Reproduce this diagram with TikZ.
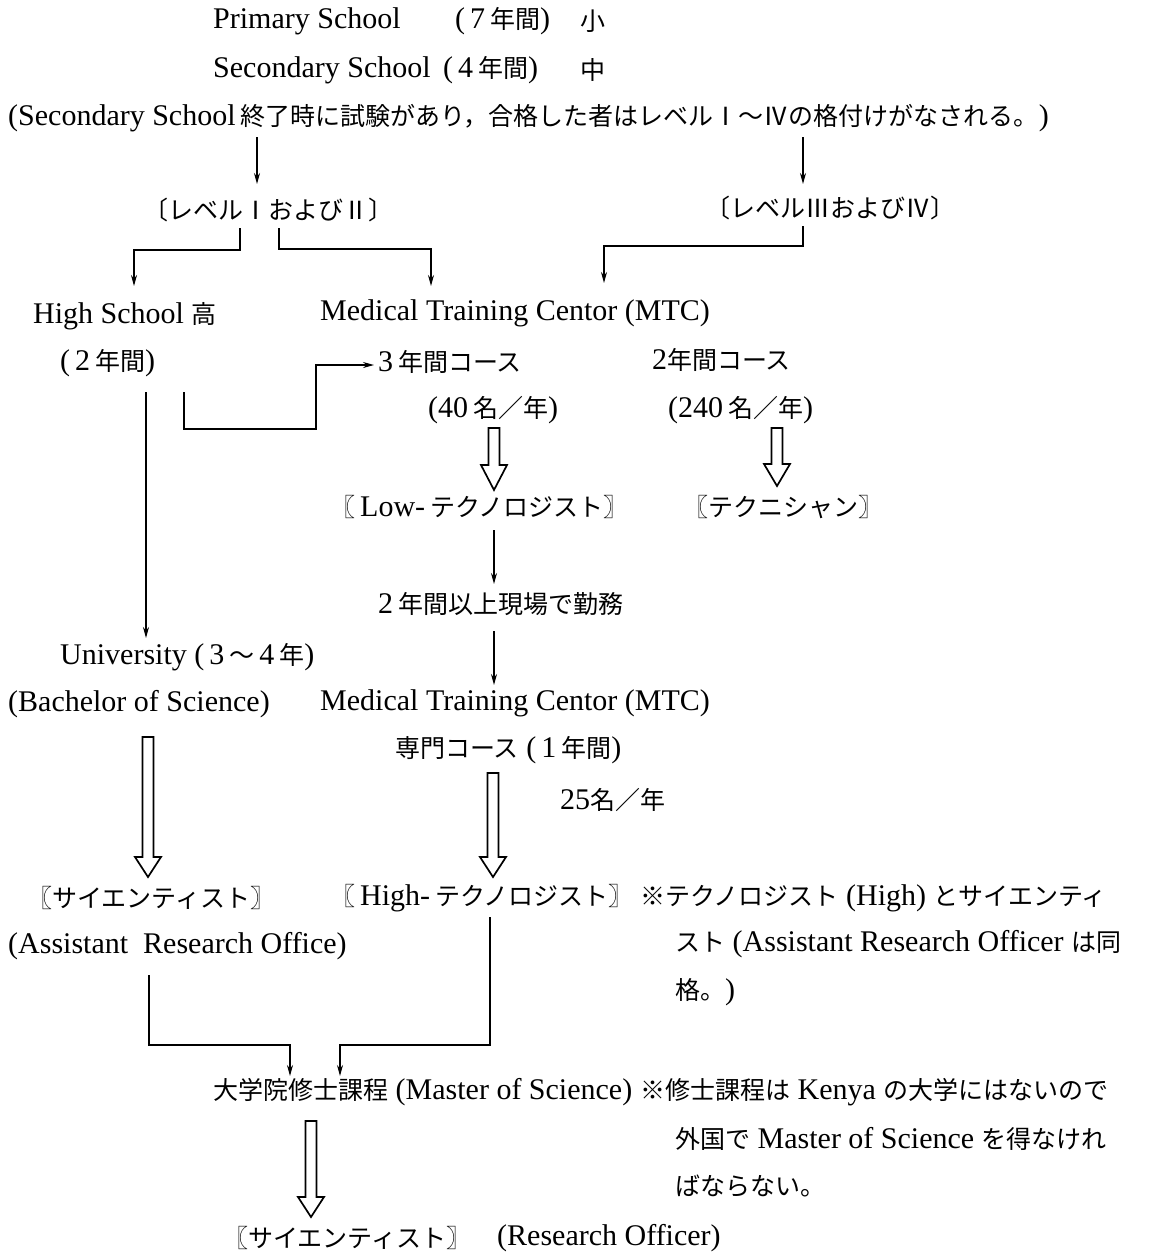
\documentclass[tikz,border=0pt]{standalone}
\usepackage{fontspec}
\setmainfont{Liberation Serif}
\newfontfamily\jpf{Noto Sans CJK JP}
\newcommand\J[1]{{\jpf\fontsize{25}{30}\selectfont #1}}
\usetikzlibrary{arrows.meta}
\newcommand\hollowarrow[4]{% x, ytop, ytip, head length
  \draw[hol] (#1-5.5,#2) -- (#1-5.5,#3-#4) -- (#1-13,#3-#4) -- (#1,#3) -- (#1+13,#3-#4) -- (#1+5.5,#3-#4) -- (#1+5.5,#2) -- cycle;}
\begin{document}
\begin{tikzpicture}[x=1pt,y=-1pt,
  txt/.style={anchor=west,inner sep=0pt,font=\fontsize{30}{35}\selectfont},
  arr/.style={line width=1.4pt,-{Stealth[length=11pt,width=6pt]}},
  hol/.style={line width=1.7pt,line join=miter}]
\useasboundingbox[fill=white] (0,0) rectangle (1151,1253);

% texts
\node[txt] (p1) at (213,21) {Primary School};
\node[txt] (p2) at (455,21) {(\,7\,\J{年間})};
\node[txt] (p3) at (580,21) {\J{小}};
\node[txt] (s1) at (213,70) {Secondary School};
\node[txt] (s2) at (443,70) {(\,4\,\J{年間})};
\node[txt] (s3) at (580,70) {\J{中}};
\node[txt] (note) at (8,118) {(Secondary School\,\J{終了時に試験があり，合格した者はレベルⅠ～Ⅳの格付けがなされる。})};
\node[txt] (lv12) at (143,210) {\J{〔レベルⅠおよびⅡ〕}};
\node[txt] (lv34) at (705,208) {\J{〔レベルⅢおよびⅣ〕}};
\node[txt] (hs) at (33,316) {High School \J{高}};
\node[txt] (hs2) at (60,363) {(\,2\,\J{年間})};
\node[txt] (mtc1) at (320,313) {Medical Training Centor (MTC)};
\node[txt] (c3) at (378,362) {3\,\J{年間コース}};
\node[txt] (c2) at (652,360) {2\J{年間コース}};
\node[txt] (n40) at (428,410) {(40\,\J{名／年})};
\node[txt] (n240) at (668,410) {(240\,\J{名／年})};
\node[txt] (low) at (330,507) {\J{〖}\,Low-\,\J{テクノロジスト〗}};
\node[txt] (tech) at (683,507) {\J{〖テクニシャン〗}};
\node[txt] (work) at (378,604) {2\,\J{年間以上現場で勤務}};
\node[txt] (uni) at (60,657) {University (\,3\,\J{～}\,4\,\J{年})};
\node[txt] (bsc) at (8,704) {(Bachelor of Science)};
\node[txt] (mtc2) at (320,703) {Medical Training Centor (MTC)};
\node[txt] (sp) at (395,750) {\J{専門コース} (\,1\,\J{年間})};
\node[txt] (n25) at (560,800) {25\J{名／年}};
\node[txt] (sci1) at (27,898) {\J{〖サイエンティスト〗}};
\node[txt] (high) at (330,898) {\J{〖}\,High-\,\J{テクノロジスト〗}};
\node[txt] (noteA) at (640,898) {\J{※テクノロジスト} (High) \J{とサイエンティ}};
\node[txt] (ari) at (8,946) {(Assistant\ \ Research Office)};
\node[txt] (noteB) at (675,944) {\J{スト} (Assistant Research Officer \J{は同}};
\node[txt] (noteC) at (675,992) {\J{格。})};
\node[txt] (mas) at (213,1092) {\J{大学院修士課程} (Master of Science)};
\node[txt] (noteD) at (640,1092) {\J{※修士課程は} Kenya \J{の大学にはないので}};
\node[txt] (noteE) at (675,1139) {\J{外国で} Master of Science \J{を得なけれ}};
\node[txt] (noteF) at (675,1186) {\J{ばならない。}};
\node[txt] (sci2) at (223,1238) {\J{〖サイエンティスト〗}};
\node[txt] (ro) at (497,1238) {(Research Officer)};

% connector end points
\coordinate (a1s) at (257,137); \coordinate (a1e) at (257,184);
\coordinate (a2s) at (803,137); \coordinate (a2e) at (803,184);
\coordinate (a3s) at (240,228); \coordinate (a3e) at (134,286);
\coordinate (a4s) at (279,228); \coordinate (a4e) at (431,286);
\coordinate (a5s) at (803,226); \coordinate (a5e) at (604,283);
\coordinate (a6s) at (184,392); \coordinate (a6e) at (374,365);
\coordinate (a7s) at (146,392); \coordinate (a7e) at (146,638);
\coordinate (a8s) at (494,530); \coordinate (a8e) at (494,584);
\coordinate (a9s) at (494,631); \coordinate (a9e) at (494,685);
\coordinate (a10s) at (149,975); \coordinate (a10e) at (290,1076);
\coordinate (a11s) at (490,917); \coordinate (a11e) at (340,1076);

\draw[arr] (a1s) -- (a1e);
\draw[arr] (a2s) -- (a2e);
\draw[arr] (a3s) -- (240,250) -| (a3e);
\draw[arr] (a4s) -- (279,249) -| (a4e);
\draw[arr] (a5s) -- (803,246) -| (a5e);
\draw[arr] (a6s) -- (184,429) -- (316,429) |- (a6e);
\draw[arr] (a7s) -- (a7e);
\draw[arr] (a8s) -- (a8e);
\draw[arr] (a9s) -- (a9e);
\draw[arr] (a10s) -- (149,1045) -| (a10e);
\draw[arr] (a11s) -- (490,1045) -| (a11e);

% hollow arrows
\hollowarrow{494}{428}{490}{25}
\hollowarrow{777}{428}{486}{22}
\hollowarrow{148}{737}{877}{20}
\hollowarrow{493}{773}{877}{20}
\hollowarrow{311}{1121}{1217}{20}
\end{tikzpicture}
\end{document}
